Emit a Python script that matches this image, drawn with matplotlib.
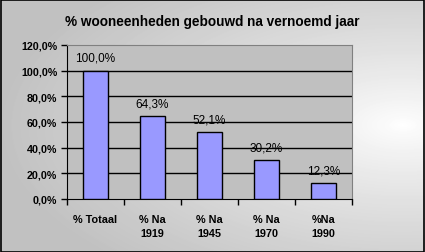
import numpy as np
import matplotlib
matplotlib.use("Agg")
import matplotlib.pyplot as plt
from matplotlib.patches import Rectangle

categories = ["% Totaal", "% Na\n1919", "% Na\n1945", "% Na\n1970", "%Na\n1990"]
values = [100.0, 64.3, 52.1, 30.2, 12.3]
title = "% wooneenheden gebouwd na vernoemd jaar"
yticks = [0, 20, 40, 60, 80, 100, 120]

plt.rcParams['font.family'] = ['Liberation Sans', 'DejaVu Sans']

W, H = 425, 253
fig = plt.figure(figsize=(W/100, H/100), dpi=100)

# background gradient
bg = fig.add_axes([0, 0, 1, 1], zorder=-10)
xx, yy = np.meshgrid(np.linspace(0, 1, 425), np.linspace(0, 1, 253))
d = np.sqrt(((xx - 0.95) / 0.95) ** 2 + ((yy - 0.5) / 0.75) ** 2)
v = 1 - 0.24 * np.clip(d, 0, 1) ** 0.8
bg.imshow(v, cmap='gray', vmin=0, vmax=1, aspect='auto', extent=[0, 1, 0, 1], interpolation='bilinear')
bg.set_xlim(0, 1); bg.set_ylim(0, 1)
bg.axis('off')
bg.add_patch(Rectangle((0.5/W, 0.5/H), 1 - 1.5/W, 1 - 1.5/H, fill=False, edgecolor='black', lw=1.2, transform=bg.transAxes))

# plot area in pixels: x 67..352, y 46..200 (from top)
ax = fig.add_axes([67/W, (H-200)/H, (352-67)/W, (200-46)/H])
ax.set_facecolor('#c0c0c0')
x = np.arange(len(categories))
ax.bar(x, values, width=0.43, color='#9999ff', edgecolor='black', linewidth=1.0, zorder=3)
ax.set_xlim(-0.5, len(categories) - 0.5)
ax.set_ylim(0, 120)
ax.set_yticks(yticks)
ax.set_yticklabels([f"{t},0%" for t in yticks], fontsize=7.7, fontweight='bold')
for t in yticks[1:-1]:
    ax.axhline(t, color='black', lw=1.0, zorder=1)
ax.set_xticks(np.arange(len(categories) + 1) - 0.5, minor=True)
ax.set_xticks(x)
ax.set_xticklabels(categories, fontsize=7.8, fontweight='bold', linespacing=1.55)
ax.tick_params(axis='x', which='major', length=0, pad=10.5)
ax.tick_params(axis='x', which='minor', length=4, width=1, direction='out', color='black')
ax.tick_params(axis='y', length=4, width=1, direction='out', color='black', pad=3)
for s in ['top', 'right']:
    ax.spines[s].set_color('#808080')
for s in ['left', 'bottom']:
    ax.spines[s].set_color('black')
for i, val in enumerate(values):
    ax.annotate(f"{val:.1f}".replace('.', ',') + "%", (i, val), xytext=(0, 5), textcoords='offset points',
                ha='center', va='bottom', fontsize=8.5, zorder=5)

fig.text(212/W, 1 - 22/H, title, ha='center', va='center', fontsize=9.8, fontweight='bold')

fig.savefig('out.png', dpi=100)
